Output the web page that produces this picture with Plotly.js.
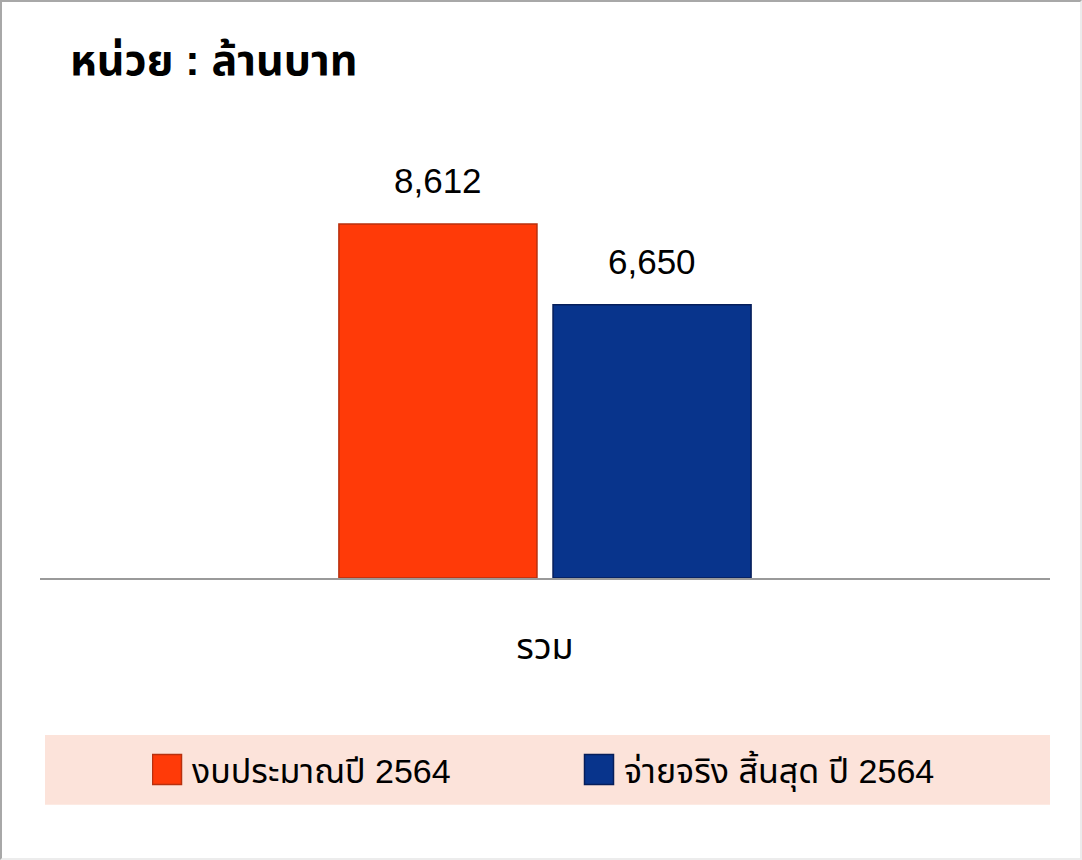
<!DOCTYPE html>
<html>
<head>
<meta charset="utf-8">
<script src="https://cdn.plot.ly/plotly-3.0.1.min.js"></script>
<style>
  html, body { margin: 0; padding: 0; background: #ffffff; }
  #wrap { position: relative; width: 1082px; height: 860px; }
  #chart { width: 1082px; height: 860px; }
  #frame { position: absolute; left: 0; top: 0; width: 1082px; height: 860px; box-sizing: border-box;
           border-left: 2px solid #a8a8a8; border-top: 2px solid #a8a8a8;
           border-right: 2px solid #ececec; border-bottom: 2px solid #ececec; pointer-events: none; }
</style>
</head>
<body>
<div id="wrap">
  <div id="chart"></div>
  <div id="frame"></div>
</div>
<script>
// ---- data ----
const categories = ['รวม'];
const seriesNames = ['งบประมาณปี 2564', 'จ่ายจริง สิ้นสุด ปี 2564'];
const budgetValues = [8612];
const actualValues = [6650];
const unitTitle = 'หน่วย : ล้านบาท';

// ---- styles ----
const FONT = 'Liberation Sans, Noto Sans Thai, Noto Sans, sans-serif';
const colors = ['#FF3A08', '#08348C'];
const lineColors = ['#B8300E', '#061E5A'];
const W = 1082, H = 860;
const M = { l: 40, r: 32, t: 167, b: 282 };
const plotW = W - M.l - M.r;
const BARGAP = 0.576;
const GROUPGAP = 0.075;
const slotPx = (1 - BARGAP) * plotW / 2;

const seriesValues = [budgetValues, actualValues];

const traces = seriesValues.map((vals, i) => ({
  type: 'bar',
  name: seriesNames[i],
  x: categories,
  y: vals,
  marker: { color: colors[i], line: { color: lineColors[i], width: 1.5 } },
  hoverinfo: 'none'
}));

const annotations = [];
seriesValues.forEach((vals, i) => {
  vals.forEach((v, j) => {
    annotations.push({
      x: categories[j], y: v, xref: 'x', yref: 'y',
      text: v.toLocaleString('en-US'),
      showarrow: false, yanchor: 'bottom',
      xshift: (i - 0.5) * slotPx,
      yshift: 22,
      font: { family: FONT, size: 35, color: '#000000' }
    });
  });
});

const layout = {
  width: W, height: H,
  margin: M,
  paper_bgcolor: '#ffffff',
  plot_bgcolor: '#ffffff',
  font: { family: FONT, color: '#000000' },
  title: {
    text: '<b>' + unitTitle + '</b>',
    x: 70 / W, xref: 'container', xanchor: 'left',
    y: 1 - 60 / H, yref: 'container', yanchor: 'middle',
    font: { family: FONT, size: 43, color: '#000000' }
  },
  barmode: 'group',
  bargap: BARGAP,
  bargroupgap: GROUPGAP,
  xaxis: {
    showline: true, linecolor: '#9a9a9a', linewidth: 1.5,
    ticks: '', showgrid: false, zeroline: false,
    ticklabelstandoff: 36,
    tickfont: { family: FONT, size: 36, color: '#000000' }
  },
  yaxis: {
    range: [0, 10000], visible: false, showgrid: false, zeroline: false
  },
  showlegend: true,
  legend: {
    orientation: 'h',
    x: (152 - M.l) / plotW, xanchor: 'left',
    y: -0.467, yanchor: 'middle',
    bgcolor: 'rgba(0,0,0,0)',
    font: { family: FONT, size: 34, color: '#000000' },
    entrywidth: 387,
    traceorder: 'normal'
  },
  shapes: [{
    type: 'rect', xref: 'paper', yref: 'paper', layer: 'below',
    x0: (45 - M.l) / plotW, x1: (1050 - M.l) / plotW,
    y0: -0.382, y1: -0.552,
    fillcolor: '#FCE3DA', line: { width: 0 }
  }],
  annotations: annotations
};

Plotly.newPlot('chart', traces, layout, { displayModeBar: false, staticPlot: true }).then(() => {
  // enlarge the legend swatches to match the reference's big square keys
  document.querySelectorAll('.legendpoints path').forEach(p => {
    p.setAttribute('d', 'M9.5,15H-19.5V-15H9.5Z');
  });
});
</script>
</body>
</html>
